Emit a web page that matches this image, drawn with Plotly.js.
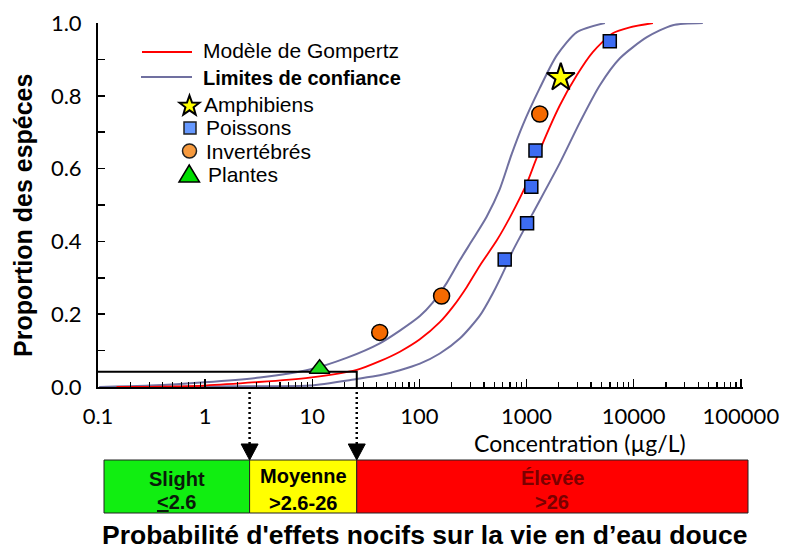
<!DOCTYPE html>
<html><head><meta charset="utf-8">
<script src="https://cdn.plot.ly/plotly-3.0.1.min.js"></script>
<style>html,body{margin:0;padding:0;background:#fff;} #chart{width:785px;height:550px;}</style>
</head><body><div id="chart"></div>
<script>
// ---- data ----
const modelName = 'Modèle de Gompertz';
const modelX = [0.149, 0.99, 9.46, 26.0, 42.7, 65.7, 101, 155, 205, 277, 367, 528, 699, 1007, 1248, 2046, 2951, 4150, 6380, 9200, 15100];
const modelY = [0.0, 0.004, 0.026, 0.047, 0.071, 0.097, 0.131, 0.178, 0.220, 0.275, 0.334, 0.403, 0.466, 0.560, 0.631, 0.774, 0.857, 0.920, 0.972, 0.988, 1.0];

const limitsName = 'Limites de confiance';
const upperX = [0.103, 0.303, 0.99, 3.23, 9.46, 20.9, 42.7, 65.7, 101, 133, 180, 238, 314, 424, 561, 726, 920, 1327, 1914, 2951, 5380];
const upperY = [0.0, 0.004, 0.013, 0.026, 0.048, 0.080, 0.120, 0.155, 0.195, 0.232, 0.286, 0.348, 0.405, 0.468, 0.543, 0.640, 0.719, 0.821, 0.911, 0.975, 1.0];
const lowerX = [0.103, 2.44, 9.46, 26.0, 42.7, 65.7, 101, 155, 238, 366, 483, 625, 743, 1143, 2042, 3141, 4831, 7430, 13270, 23170, 44150];
const lowerY = [0.0, 0.002, 0.004, 0.022, 0.032, 0.046, 0.064, 0.092, 0.133, 0.196, 0.257, 0.324, 0.374, 0.477, 0.615, 0.727, 0.829, 0.903, 0.961, 0.994, 1.0];

const amphName = 'Amphibiens';
const amphX = [2086];
const amphY = [0.85];
const fishName = 'Poissons';
const fishX = [625, 1011, 1107, 1211, 5980];
const fishY = [0.35, 0.45, 0.55, 0.65, 0.95];
const invName = 'Invertébrés';
const invX = [42.6, 161, 1328];
const invY = [0.15, 0.25, 0.75];
const plantName = 'Plantes';
const plantX = [11.7];
const plantY = [0.05];

const threshX = [0.1, 26, 26];
const threshY = [0.042, 0.042, 0];
const cutoffs = [2.6, 26];

const xTickVals = [0.1, 1, 10, 100, 1000, 10000, 100000];
const xTickText = ['0.1', '1', '10', '100', '1000', '10000', '100000'];
const yTickVals = [0, 0.2, 0.4, 0.6, 0.8, 1.0];
const yTickText = ['0.0', '0.2', '0.4', '0.6', '0.8', '1.0'];

const bandNames = ['Slight', 'Moyenne', 'Élevée'];
const bandRanges = ['<u>&lt;</u>2.6', '&gt;2.6-26', '&gt;26'];
const xTitle = 'Concentration (µg/L)';
const yTitle = 'Proportion des espéces';
const bottomTitle = 'Probabilité d\'effets nocifs sur la vie en d’eau douce';

// ---- layout geometry ----
const M = {l: 98, t: 23, w: 645, h: 364};
const XR = [-1, 5.02];
const px = x => (x - M.l) / M.w;              // page pixel -> paper x
const py = y => (M.t + M.h - y) / M.h;        // page pixel -> paper y
const pv = v => (Math.log10(v) - XR[0]) / (XR[1] - XR[0]); // data x -> paper x

const minorVals = [];
for (let e = -1; e < 5; e++) for (let d = 2; d <= 9; d++) minorVals.push(d * Math.pow(10, e));

const BLUE = '#7070a0';
const traces = [
  {x: upperX, y: upperY, mode: 'lines', line: {color: BLUE, width: 2, shape: 'spline', smoothing: 0.7}, showlegend: false, name: limitsName},
  {x: lowerX, y: lowerY, mode: 'lines', line: {color: BLUE, width: 2, shape: 'spline', smoothing: 0.7}, showlegend: false, name: limitsName},
  {x: modelX, y: modelY, mode: 'lines', line: {color: '#ff0000', width: 1.8, shape: 'spline', smoothing: 0.7}, showlegend: false, name: modelName},
  {x: threshX, y: threshY, mode: 'lines', line: {color: '#000', width: 2}, showlegend: false, hoverinfo: 'skip'},
  {x: plantX, y: plantY, mode: 'markers', name: plantName, showlegend: false,
   marker: {symbol: 'triangle-up', size: 18, color: '#1ed81e', line: {color: '#000', width: 1.5}}},
  {x: invX, y: invY, mode: 'markers', name: invName, showlegend: false,
   marker: {symbol: 'circle', size: 16, color: '#f56a00', line: {color: '#000', width: 1.5}}},
  {x: fishX, y: fishY, mode: 'markers', name: fishName, showlegend: false,
   marker: {symbol: 'square', size: 13, color: '#3d6cf2', line: {color: '#000', width: 1.5}}},
  {x: amphX, y: amphY, mode: 'markers', name: amphName, showlegend: false,
   marker: {symbol: 'star', size: 21, color: '#ffff00', line: {color: '#000', width: 2}}}
];

function poly(points) {
  return 'M' + points.map(p => px(p[0]).toFixed(5) + ',' + py(p[1]).toFixed(5)).join('L') + 'Z';
}
function star(cx, cy, ro, ri) {
  const pts = [];
  for (let i = 0; i < 10; i++) {
    const a = -Math.PI / 2 + i * Math.PI / 5;
    const r = i % 2 ? ri : ro;
    pts.push([cx + r * Math.cos(a), cy + r * Math.sin(a)]);
  }
  return poly(pts);
}

const shapes = [];
// bottom risk band
const bandY0 = py(513), bandY1 = py(460);
const bx = [px(104), pv(cutoffs[0]), pv(cutoffs[1]), px(748)];
const bandCols = ['#11ee11', '#ffff00', '#ff0000'];
for (let i = 0; i < 3; i++) {
  shapes.push({type: 'rect', xref: 'paper', yref: 'paper', x0: bx[i], x1: bx[i + 1], y0: bandY0, y1: bandY1,
    fillcolor: bandCols[i], line: {color: '#222', width: 1}, layer: 'above'});
}
// dotted drop lines and arrowheads
cutoffs.forEach(c => {
  const xc = pv(c);
  shapes.push({type: 'line', xref: 'paper', yref: 'paper', x0: xc, x1: xc, y0: 0, y1: py(446),
    line: {color: '#000', width: 2.5, dash: '2px,3px'}});
  const xp = M.l + xc * M.w;
  shapes.push({type: 'path', xref: 'paper', yref: 'paper', path: poly([[xp - 8.5, 444], [xp + 8.5, 444], [xp, 460]]),
    fillcolor: '#000', line: {color: '#000', width: 1}});
});
// legend keys
shapes.push({type: 'line', xref: 'paper', yref: 'paper', x0: px(142), x1: px(192), y0: py(52), y1: py(52), line: {color: '#ff0000', width: 1.8}});
shapes.push({type: 'line', xref: 'paper', yref: 'paper', x0: px(141), x1: px(192), y0: py(77), y1: py(77), line: {color: BLUE, width: 2}});
shapes.push({type: 'path', xref: 'paper', yref: 'paper', path: star(189.5, 106, 10.5, 4.3), fillcolor: '#ffff00', line: {color: '#000', width: 2}});
shapes.push({type: 'rect', xref: 'paper', yref: 'paper', x0: px(184), x1: px(196), y0: py(134), y1: py(122), fillcolor: '#6699ff', line: {color: '#222', width: 1.5}});
shapes.push({type: 'circle', xref: 'paper', yref: 'paper', x0: px(182.5), x1: px(196.5), y0: py(158), y1: py(144), fillcolor: '#f79a3e', line: {color: '#222', width: 1.5}});
shapes.push({type: 'path', xref: 'paper', yref: 'paper', path: poly([[179, 182], [199.5, 182], [189.2, 165]]), fillcolor: '#00dd00', line: {color: '#000', width: 1.5}});

const ann = (text, x, y, font, extra) => Object.assign({text, x, y, xref: 'paper', yref: 'paper', showarrow: false, font, xanchor: 'center', yanchor: 'middle'}, extra || {});
const SANS = 'Liberation Sans, Arial, sans-serif';
const TICK = 'Lato, Open Sans, sans-serif';
const annotations = [
  ann(modelName, px(201), py(51), {family: SANS, size: 21, color: '#000'}, {xanchor: 'left'}),
  ann('<b>' + limitsName + '</b>', px(201), py(78), {family: SANS, size: 20, color: '#000'}, {xanchor: 'left'}),
  ann(amphName, px(202), py(105), {family: SANS, size: 21, color: '#000'}, {xanchor: 'left'}),
  ann(fishName, px(204), py(128), {family: SANS, size: 21, color: '#000'}, {xanchor: 'left'}),
  ann(invName, px(204), py(151), {family: SANS, size: 21, color: '#000'}, {xanchor: 'left'}),
  ann(plantName, px(206), py(174), {family: SANS, size: 21, color: '#000'}, {xanchor: 'left'}),
  ann(xTitle, px(580), py(443), {family: TICK, size: 23, color: '#000'}),
  ann('<b>' + yTitle + '</b>', px(23), py(216), {family: SANS, size: 25, color: '#000'}, {textangle: -90}),
  ann('<b>' + bottomTitle + '</b>', px(424), py(535), {family: SANS, size: 26.5, color: '#000'})
];
const bandTextCol = ['#0a1a0a', '#000', '#7a0000'];
const bandNameY = [479, 476, 478], bandRangeY = [502, 503, 502];
for (let i = 0; i < 3; i++) {
  const cx = (bx[i] + bx[i + 1]) / 2;
  annotations.push(ann('<b>' + bandNames[i] + '</b>', cx, py(bandNameY[i]), {family: SANS, size: 20, color: bandTextCol[i]}));
  annotations.push(ann('<b>' + bandRanges[i] + '</b>', cx, py(bandRangeY[i]), {family: SANS, size: 20, color: bandTextCol[i]}));
}

const layout = {
  width: 785, height: 550,
  margin: {l: M.l, r: 785 - M.l - M.w, t: M.t, b: 550 - M.t - M.h, pad: 0},
  paper_bgcolor: '#fff', plot_bgcolor: '#fff',
  showlegend: false,
  xaxis: {type: 'log', range: XR, showgrid: false, zeroline: false,
    showline: true, linecolor: '#000', linewidth: 2,
    tickmode: 'array', tickvals: xTickVals, ticktext: xTickText,
    ticks: 'inside', ticklen: 8, tickwidth: 1.5, tickcolor: '#000',
    ticklabelstandoff: 9,
    tickfont: {family: TICK, size: 22, color: '#000'},
    minor: {tickmode: 'array', tickvals: minorVals, ticks: 'inside', ticklen: 5, tickwidth: 1.2, tickcolor: '#000', showgrid: false}
  },
  yaxis: {range: [0, 1], showgrid: false, zeroline: false,
    showline: true, linecolor: '#000', linewidth: 2,
    tickmode: 'array', tickvals: yTickVals, ticktext: yTickText,
    ticks: 'inside', ticklen: 7, tickwidth: 1.5, tickcolor: '#000',
    ticklabelstandoff: 10,
    tickfont: {family: TICK, size: 22, color: '#000'},
    minor: {dtick: 0.1, ticks: 'inside', ticklen: 7, tickwidth: 1.5, tickcolor: '#000', showgrid: false}
  },
  shapes, annotations
};

Plotly.newPlot('chart', traces, layout, {displayModeBar: false, staticPlot: true});
</script>
</body></html>
